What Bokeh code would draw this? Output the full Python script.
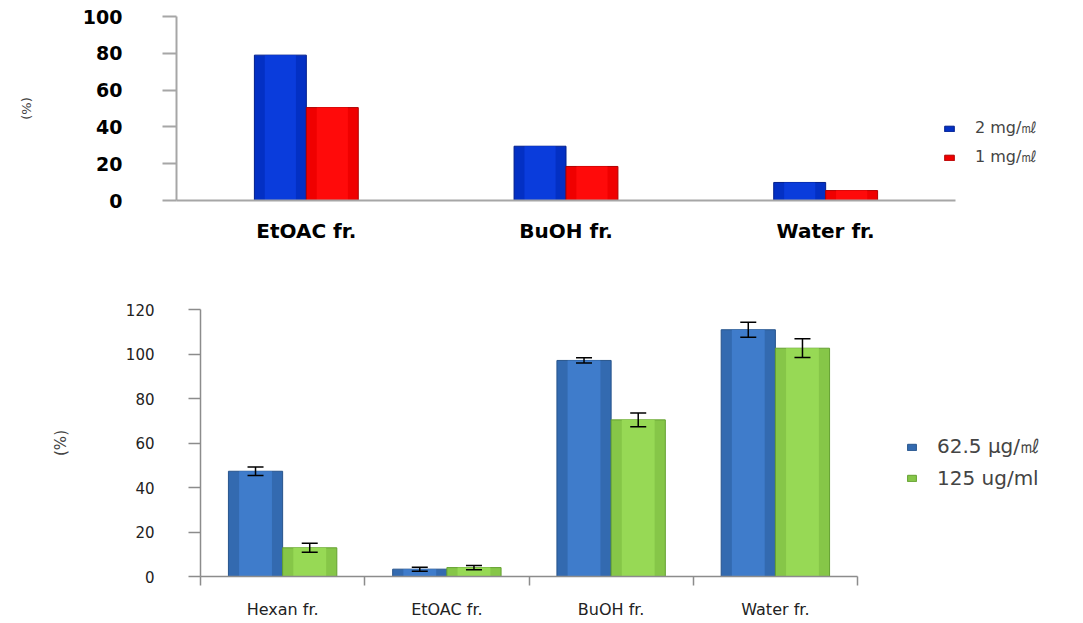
from bokeh.plotting import figure
from bokeh.models import (Range1d, FactorRange, Legend, LegendItem, ColumnDataSource,
                          Whisker, TeeHead, FixedTicker)
from bokeh.transform import dodge
from bokeh.layouts import column, row
from bokeh.embed import file_html
from bokeh.resources import INLINE

# ---------------- data ----------------
top_categories = ["EtOAC fr.", "BuOH fr.", "Water fr."]
top_2mg = [79, 29.5, 9.8]
top_1mg = [50.5, 18.5, 5.4]
top_series_labels = ["2 mg/㎖", "1 mg/㎖"]
top_yticks = [0, 20, 40, 60, 80, 100]

bot_categories = ["Hexan fr.", "EtOAC fr.", "BuOH fr.", "Water fr."]
bot_62 = [47.3, 3.3, 97.1, 110.9]
bot_62_err = [1.9, 0.9, 1.2, 3.4]
bot_125 = [12.9, 4.0, 70.4, 102.6]
bot_125_err = [2.0, 1.0, 3.1, 4.2]
bot_series_labels = ["62.5 μg/㎖", "125 ug/ml"]
bot_yticks = [0, 20, 40, 60, 80, 100, 120]

FONT = "DejaVu Sans"

# ---------------- top chart ----------------
src_top = ColumnDataSource(dict(cat=top_categories, a=top_2mg, b=top_1mg))
p1 = figure(frame_width=779, frame_height=184, x_range=FactorRange(*top_categories),
            y_range=Range1d(0, 100), output_backend="svg", toolbar_location=None,
            min_border_left=176, min_border_right=120, min_border_top=16, min_border_bottom=55)
r1a = p1.vbar(x=dodge("cat", -0.1, range=p1.x_range), top="a", width=0.2, source=src_top,
              fill_color="#0330C4", line_color="#001E8C", line_width=1)
p1.vbar(x=dodge("cat", -0.1, range=p1.x_range), top="a", width=0.12, source=src_top,
        fill_color="#0A3CDC", line_color=None)
r1b = p1.vbar(x=dodge("cat", 0.1, range=p1.x_range), top="b", width=0.2, source=src_top,
              fill_color="#F00000", line_color="#B00000", line_width=1)
p1.vbar(x=dodge("cat", 0.1, range=p1.x_range), top="b", width=0.12, source=src_top,
        fill_color="#FF0A0A", line_color=None)
p1.outline_line_color = None
p1.xgrid.visible = False
p1.ygrid.visible = False
p1.yaxis.ticker = FixedTicker(ticks=top_yticks, minor_ticks=[])
p1.yaxis.axis_line_color = "#A6A6A6"
p1.yaxis.axis_line_width = 2
p1.yaxis.major_tick_line_color = "#A6A6A6"
p1.yaxis.major_tick_line_width = 2
p1.yaxis.major_tick_out = 14
p1.yaxis.major_tick_in = 0
p1.yaxis.major_label_standoff = 40
p1.yaxis.major_label_text_font = FONT
p1.yaxis.major_label_text_font_style = "bold"
p1.yaxis.major_label_text_font_size = "19px"
p1.yaxis.major_label_text_color = "#000000"
p1.yaxis.axis_label = "(%)"
p1.yaxis.axis_label_text_font = FONT
p1.yaxis.axis_label_text_font_style = "normal"
p1.yaxis.axis_label_text_font_size = "13px"
p1.yaxis.axis_label_standoff = 46
p1.xaxis.axis_line_color = "#A6A6A6"
p1.xaxis.axis_line_width = 2
p1.xaxis.major_tick_line_color = None
p1.xaxis.major_tick_out = 0
p1.xaxis.major_tick_in = 0
p1.xaxis.major_label_standoff = 18
p1.xaxis.major_label_text_font = FONT
p1.xaxis.major_label_text_font_style = "bold"
p1.xaxis.major_label_text_font_size = "20px"
p1.xaxis.major_label_text_color = "#000000"
leg1 = Legend(items=[LegendItem(label=top_series_labels[0], renderers=[r1a]),
                     LegendItem(label=top_series_labels[1], renderers=[r1b])],
              location=(-12, 32), border_line_color=None, background_fill_alpha=0,
              padding=0, margin=0, spacing=8, glyph_width=12, glyph_height=7,
              label_height=18, label_standoff=20, label_text_font=FONT,
              label_text_font_size="16px")
p1.add_layout(leg1, "right")

# ---------------- bottom chart ----------------
n_bot = len(bot_categories)
xpos = [i + 0.5 for i in range(n_bot)]
src_bot = ColumnDataSource(dict(
    xa=[x - 0.165 for x in xpos], xb=[x + 0.165 for x in xpos],
    a=bot_62, b=bot_125,
    a_lo=[v - e for v, e in zip(bot_62, bot_62_err)], a_hi=[v + e for v, e in zip(bot_62, bot_62_err)],
    b_lo=[v - e for v, e in zip(bot_125, bot_125_err)], b_hi=[v + e for v, e in zip(bot_125, bot_125_err)],
))
p2 = figure(frame_width=657, frame_height=267, x_range=Range1d(0, n_bot),
            y_range=Range1d(0, 120), output_backend="svg", toolbar_location=None,
            min_border_left=200, min_border_right=218, min_border_top=54, min_border_bottom=44)
r2a = p2.vbar(x="xa", top="a", width=0.33, source=src_bot,
              fill_color="#336AB0", line_color="#27548C", line_width=1)
p2.vbar(x="xa", top="a", width=0.2, source=src_bot, fill_color="#3F7CCB", line_color=None)
r2b = p2.vbar(x="xb", top="b", width=0.33, source=src_bot,
              fill_color="#86C648", line_color="#64A030", line_width=1)
p2.vbar(x="xb", top="b", width=0.2, source=src_bot, fill_color="#97D955", line_color=None)
for base, lo, hi in (("xa", "a_lo", "a_hi"), ("xb", "b_lo", "b_hi")):
    w = Whisker(source=src_bot, base=base, lower=lo, upper=hi, line_color="black", line_width=1.5,
                level="overlay",
                upper_head=TeeHead(size=16, line_color="black", line_width=1.5),
                lower_head=TeeHead(size=16, line_color="black", line_width=1.5))
    p2.add_layout(w)
p2.outline_line_color = None
p2.xgrid.visible = False
p2.ygrid.visible = False
p2.yaxis.ticker = FixedTicker(ticks=bot_yticks, minor_ticks=[])
p2.yaxis.axis_line_color = "#8C8C8C"
p2.yaxis.axis_line_width = 1.5
p2.yaxis.major_tick_line_color = "#8C8C8C"
p2.yaxis.major_tick_line_width = 1.5
p2.yaxis.major_tick_out = 12
p2.yaxis.major_tick_in = 0
p2.yaxis.major_label_standoff = 34
p2.yaxis.major_label_text_font = FONT
p2.yaxis.major_label_text_font_size = "15px"
p2.yaxis.major_label_text_color = "#222222"
p2.yaxis.axis_label = "(%)"
p2.yaxis.axis_label_text_font = FONT
p2.yaxis.axis_label_text_font_style = "normal"
p2.yaxis.axis_label_text_font_size = "15px"
p2.yaxis.axis_label_standoff = 53
p2.xaxis.ticker = FixedTicker(ticks=xpos, minor_ticks=list(range(n_bot + 1)))
p2.xaxis.major_label_overrides = {x: c for x, c in zip(xpos, bot_categories)}
p2.xaxis.axis_line_color = "#8C8C8C"
p2.xaxis.axis_line_width = 1.5
p2.xaxis.major_tick_line_color = None
p2.xaxis.major_tick_out = 0
p2.xaxis.major_tick_in = 0
p2.xaxis.minor_tick_line_color = "#8C8C8C"
p2.xaxis.minor_tick_line_width = 1.5
p2.xaxis.minor_tick_out = 9
p2.xaxis.minor_tick_in = 0
p2.xaxis.major_label_standoff = 14
p2.xaxis.major_label_text_font = FONT
p2.xaxis.major_label_text_font_size = "16px"
p2.xaxis.major_label_text_color = "#222222"
leg2 = Legend(items=[LegendItem(label=bot_series_labels[0], renderers=[r2a]),
                     LegendItem(label=bot_series_labels[1], renderers=[r2b])],
              location=(49, 86), border_line_color=None, background_fill_alpha=0,
              padding=0, margin=0, spacing=6, glyph_width=11, glyph_height=8,
              label_height=22, label_standoff=20, label_text_font=FONT,
              label_text_font_size="20px")
p2.add_layout(leg2, "right")

layout = column(row(p1), row(p2), spacing=0)
open("out.html", "w").write(file_html(layout, INLINE))
